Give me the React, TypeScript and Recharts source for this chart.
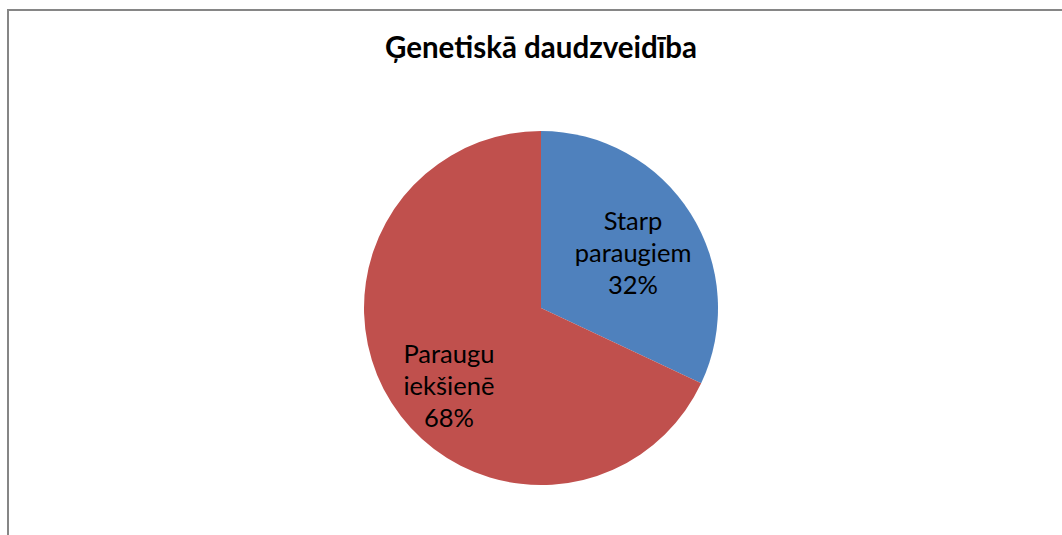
import React from "react";
import { PieChart, Pie, Cell } from "recharts";

const title = "Ģenetiskā daudzveidība";
const categories = ["Starp paraugiem", "Paraugu iekšienē"];
const labelLines = [["Starp", "paraugiem"], ["Paraugu", "iekšienē"]];
const values = [32, 68];
const colors = ["#4F81BD", "#C0504D"];

const data = categories.map((name, i) => ({ name, value: values[i] }));
const total = values.reduce((a, b) => a + b, 0);

const FONT = "Lato, 'Open Sans', sans-serif";

const RADIAN = Math.PI / 180;
const renderLabel = (props: any) => {
  const { cx, cy, midAngle, outerRadius, index, value } = props;
  const frac = value / total;
  const rx = outerRadius * 0.616;
  const ry = outerRadius * 0.7;
  const x = cx + rx * Math.cos(-midAngle * RADIAN);
  const y = cy + 11.5 + ry * Math.sin(-midAngle * RADIAN);
  const lines = [...labelLines[index], `${Math.round(frac * 100)}%`];
  const lh = 32;
  return (
    <text x={x} y={y} textAnchor="middle" fill="#000" fontFamily={FONT} fontSize={25.5}>
      {lines.map((l, i) => (
        <tspan key={i} x={x} y={y + (i - 1) * lh} dy="0.35em">
          {l}
        </tspan>
      ))}
    </text>
  );
};

export default function App() {
  return (
    <div style={{ position: "fixed", left: 0, top: 0, width: 1062, height: 535, overflow: "hidden", background: "#fff" }}>
      <div style={{ position: "absolute", left: 7, top: 9, width: 1100, height: 600, borderTop: "2px solid #868686", borderLeft: "2px solid #868686" }} />
      <svg style={{ position: "absolute", left: 0, top: 0 }} width={1062} height={100}>
        <text x={541} y={58} textAnchor="middle" fontFamily={FONT} fontWeight={700} fontSize={29.5} fill="#000">
          {title}
        </text>
      </svg>
      <div style={{ position: "absolute", left: 0, top: 0 }}>
        <PieChart width={1062} height={535} margin={{ top: 0, right: 0, bottom: 0, left: 0 }}>
          <Pie
            data={data}
            dataKey="value"
            cx={541}
            cy={308}
            outerRadius={177}
            startAngle={90}
            endAngle={-270}
            stroke="none"
            isAnimationActive={false}
            label={renderLabel}
            labelLine={false}
          >
            {data.map((d, i) => (
              <Cell key={d.name} fill={colors[i]} />
            ))}
          </Pie>
        </PieChart>
      </div>
    </div>
  );
}
